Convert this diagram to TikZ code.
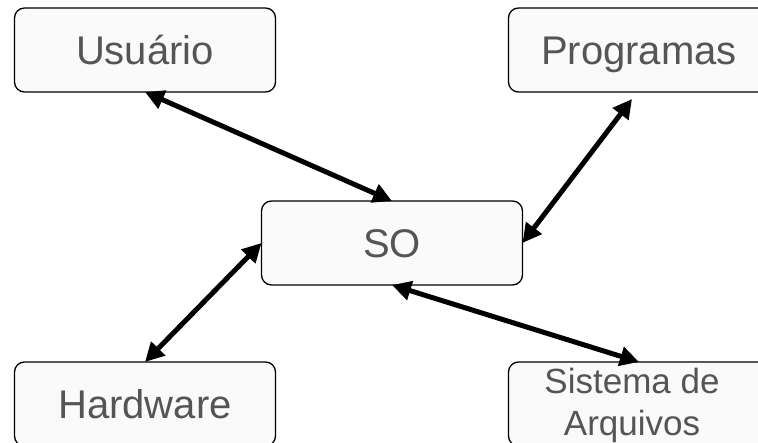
\documentclass[tikz,border=0pt]{standalone}
\usepackage{fontspec}
\setmainfont{Liberation Sans}
\usetikzlibrary{arrows.meta}
\definecolor{boxfill}{HTML}{FAFAFA}
\definecolor{txtgray}{HTML}{555555}
\tikzset{
  box/.style={draw=black, line width=1.3pt, fill=boxfill, rounded corners=10pt,
    minimum width=261pt, minimum height=84pt, inner sep=0pt, outer sep=0pt,
    text=txtgray, font=\fontsize{40}{44}\selectfont, text height=29pt, text depth=0pt},
  label2/.style={text=txtgray, font=\fontsize{35}{42}\selectfont, align=center, inner sep=0pt},
  link/.style={line width=5pt, {Triangle[length=19pt,width=19pt]}-{Triangle[length=19pt,width=19pt]}}
}
\begin{document}
\begin{tikzpicture}[x=1pt,y=-1pt]
  \clip (0,0) rectangle (758,443);
  \fill[white] (0,0) rectangle (758,443);
  % boxes
  \node[box] (usr)  at (145,50)  {Usuário};
  \node[box] (prog) at (639,50)  {Programas};
  \node[box] (so)   at (392,243) {SO};
  \node[box] (hw)   at (145,404) {Hardware};
  \node[box] (sys)  at (639,404) {};
  \node[label2] (systxt) at (632,405) {Sistema de\\Arquivos};
  % connectors
  \draw[link] (usr.south) -- (so.north);
  \draw[link] ([xshift=-7pt,yshift=-7pt]prog.south) -- (so.east);
  \draw[link] (so.west) -- (hw.north);
  \draw[link] (so.south) -- (sys.north);
\end{tikzpicture}
\end{document}
